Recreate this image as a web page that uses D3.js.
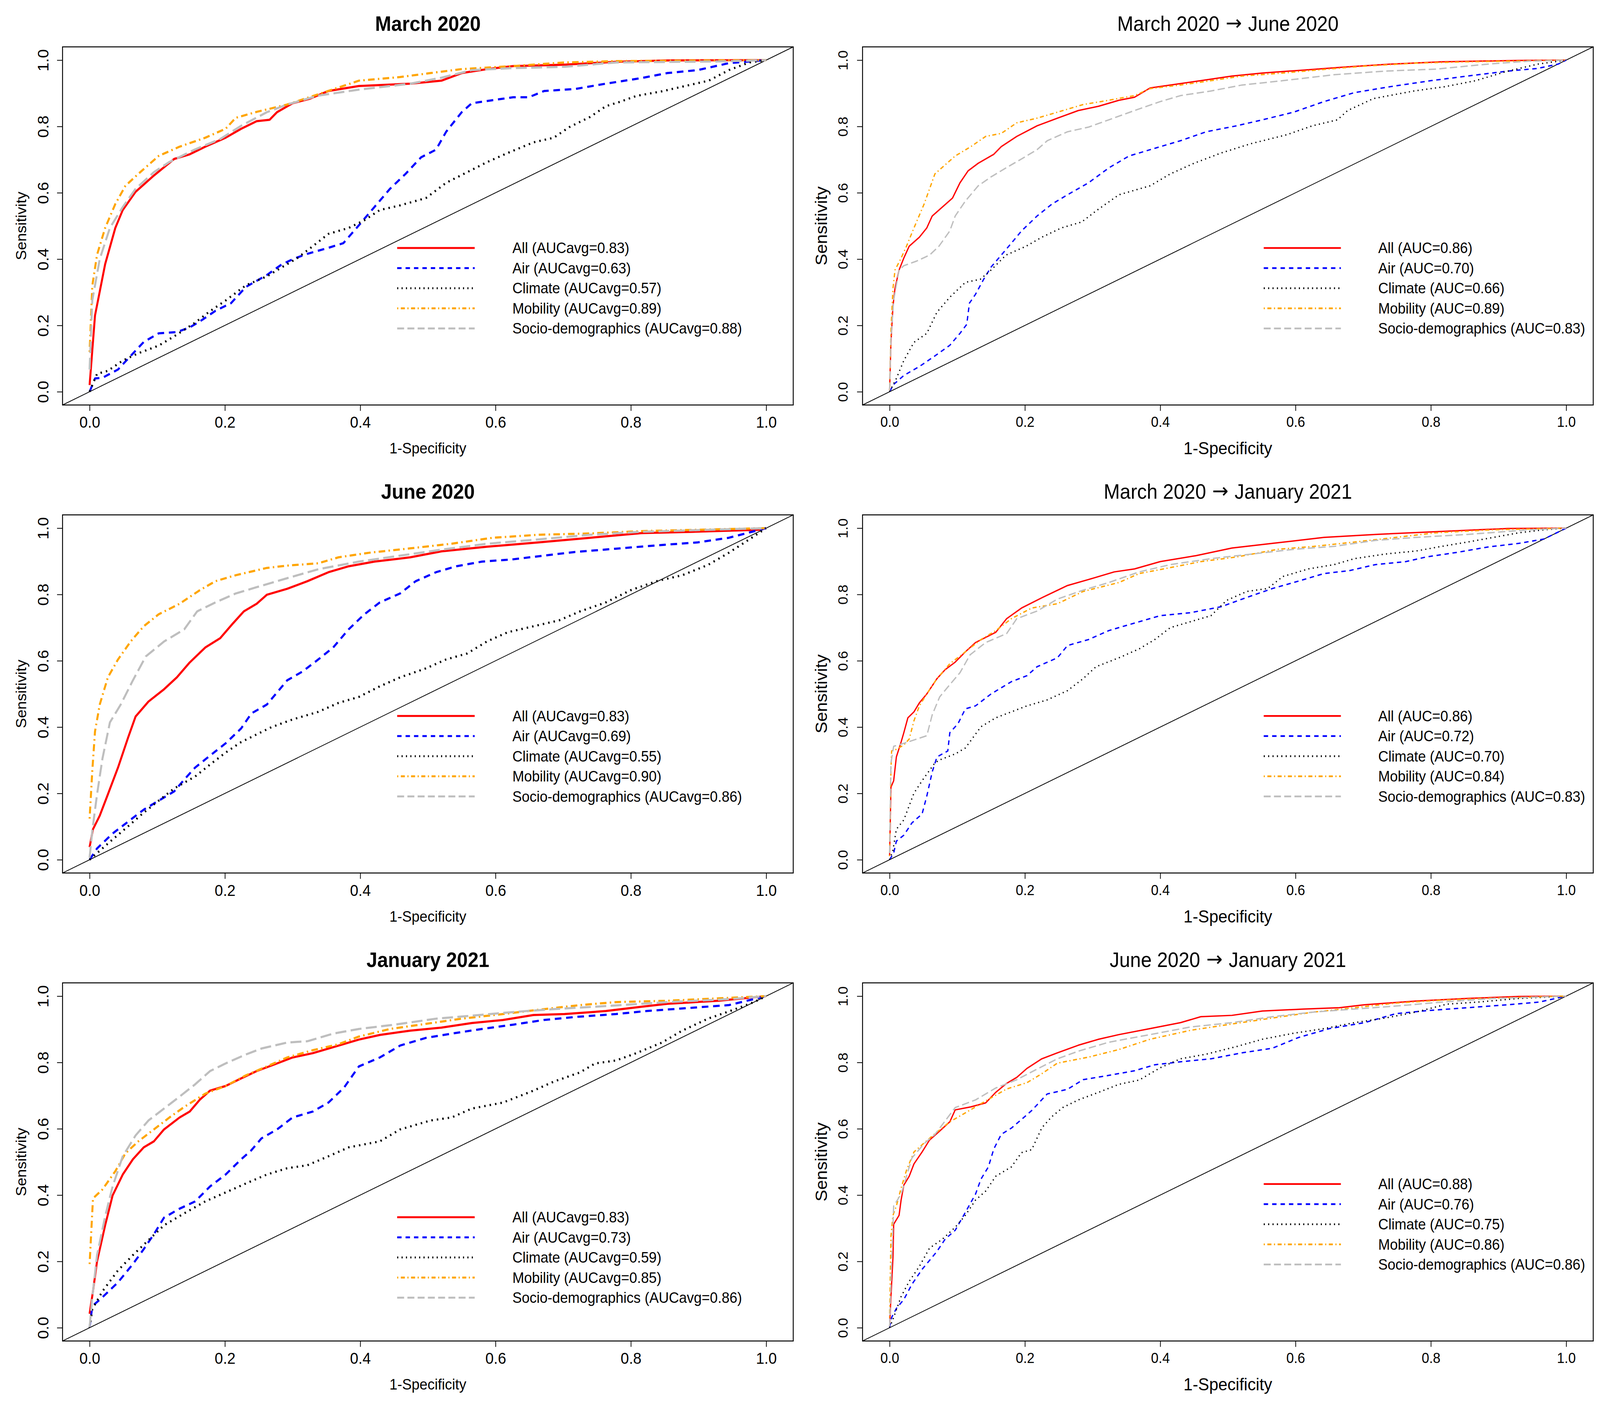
<!DOCTYPE html>
<html><head><meta charset="utf-8">
<script src="https://cdn.jsdelivr.net/npm/d3@7"></script>
<style>html,body{margin:0;padding:0;overflow:hidden;background:#fff;width:100%;height:100%}svg{display:block;width:100vw;height:100vh}text{font-family:"Liberation Sans",Arial,sans-serif}</style>
</head><body>
<svg id="c" viewBox="0 0 4375 3595" preserveAspectRatio="none"></svg>
<script>
// ---------- DATA (x = 1-Specificity, y = Sensitivity) ----------
const seriesNames = ["All","Air","Climate","Mobility","Socio-demographics"];
const seriesColors = ["#FF0000","#0000FF","#000000","#FFA500","#BEBEBE"];
const xTicks = [0,0.2,0.4,0.6,0.8,1.0];
const yTicks = [0,0.2,0.4,0.6,0.8,1.0];
const titleParts = [["March 2020"],["March 2020","June 2020"],["June 2020"],["March 2020","January 2021"],["January 2021"],["June 2020","January 2021"]];

const mar20_all=[[0,0.02],[0.008,0.23],[0.023,0.385],[0.038,0.494],[0.049,0.548],[0.068,0.603],[0.095,0.652],[0.125,0.702],[0.148,0.716],[0.171,0.739],[0.201,0.766],[0.224,0.793],[0.247,0.816],[0.266,0.82],[0.277,0.843],[0.3,0.87],[0.326,0.884],[0.353,0.907],[0.398,0.922],[0.474,0.929],[0.52,0.938],[0.55,0.961],[0.588,0.973],[0.626,0.982],[0.7,0.986],[0.778,0.995],[0.854,0.999],[1,1]];
const mar20_air=[[0,0],[0.008,0.04],[0.019,0.042],[0.042,0.067],[0.057,0.1],[0.08,0.15],[0.102,0.176],[0.129,0.18],[0.148,0.194],[0.163,0.212],[0.186,0.244],[0.209,0.267],[0.231,0.316],[0.262,0.352],[0.284,0.384],[0.303,0.402],[0.322,0.416],[0.353,0.434],[0.375,0.448],[0.398,0.502],[0.421,0.557],[0.444,0.612],[0.467,0.657],[0.49,0.707],[0.512,0.73],[0.527,0.784],[0.55,0.843],[0.565,0.87],[0.595,0.879],[0.626,0.888],[0.649,0.888],[0.672,0.907],[0.718,0.913],[0.763,0.929],[0.816,0.946],[0.854,0.961],[0.899,0.97],[0.945,0.991],[1,1]];
const mar20_climate=[[0,0],[0.011,0.054],[0.027,0.063],[0.049,0.094],[0.072,0.116],[0.102,0.139],[0.125,0.167],[0.155,0.207],[0.178,0.243],[0.201,0.275],[0.231,0.321],[0.262,0.348],[0.284,0.375],[0.307,0.403],[0.33,0.439],[0.353,0.476],[0.383,0.494],[0.406,0.517],[0.429,0.548],[0.459,0.562],[0.497,0.584],[0.527,0.63],[0.558,0.662],[0.588,0.693],[0.618,0.72],[0.656,0.752],[0.686,0.766],[0.709,0.798],[0.74,0.829],[0.763,0.861],[0.785,0.875],[0.808,0.892],[0.846,0.906],[0.876,0.92],[0.915,0.938],[0.945,0.97],[0.975,0.993],[1,1]];
const mar20_mobility=[[0,0.12],[0.004,0.32],[0.011,0.413],[0.023,0.494],[0.038,0.566],[0.053,0.621],[0.072,0.657],[0.102,0.711],[0.133,0.739],[0.171,0.766],[0.201,0.793],[0.216,0.826],[0.247,0.844],[0.292,0.866],[0.338,0.897],[0.398,0.938],[0.459,0.949],[0.504,0.961],[0.55,0.973],[0.626,0.982],[0.702,0.993],[0.778,0.997],[1,1]];
const mar20_socio=[[0,0.067],[0.004,0.276],[0.015,0.4],[0.03,0.494],[0.049,0.557],[0.068,0.612],[0.095,0.662],[0.118,0.693],[0.155,0.73],[0.193,0.762],[0.224,0.802],[0.262,0.843],[0.292,0.866],[0.338,0.893],[0.398,0.911],[0.474,0.929],[0.52,0.947],[0.565,0.97],[0.626,0.976],[0.702,0.98],[0.778,0.993],[0.93,0.996],[1,1]];

const marjun_all=[[0,0.004],[0.002,0.149],[0.005,0.258],[0.008,0.312],[0.014,0.367],[0.021,0.403],[0.029,0.439],[0.044,0.466],[0.055,0.494],[0.063,0.53],[0.078,0.557],[0.093,0.584],[0.104,0.63],[0.116,0.666],[0.131,0.689],[0.154,0.716],[0.165,0.739],[0.188,0.77],[0.218,0.802],[0.248,0.825],[0.279,0.848],[0.309,0.861],[0.339,0.879],[0.362,0.888],[0.385,0.916],[0.415,0.925],[0.46,0.938],[0.506,0.952],[0.551,0.961],[0.612,0.97],[0.672,0.979],[0.74,0.988],[0.816,0.995],[0.93,0.999],[1,1]];
const marjun_air=[[0,0],[0.006,0.022],[0.021,0.049],[0.044,0.076],[0.067,0.108],[0.089,0.14],[0.104,0.176],[0.114,0.203],[0.118,0.267],[0.127,0.294],[0.139,0.339],[0.15,0.376],[0.165,0.412],[0.18,0.448],[0.195,0.485],[0.218,0.53],[0.24,0.566],[0.263,0.594],[0.294,0.63],[0.324,0.675],[0.354,0.711],[0.4,0.739],[0.43,0.757],[0.468,0.784],[0.513,0.802],[0.551,0.82],[0.597,0.843],[0.642,0.875],[0.687,0.902],[0.74,0.92],[0.8,0.938],[0.854,0.952],[0.914,0.967],[0.958,0.975],[0.988,0.988],[1,1]];
const marjun_climate=[[0,0],[0.01,0.04],[0.021,0.094],[0.036,0.149],[0.055,0.176],[0.07,0.24],[0.089,0.285],[0.112,0.33],[0.134,0.339],[0.15,0.367],[0.172,0.412],[0.202,0.439],[0.225,0.466],[0.254,0.494],[0.284,0.512],[0.307,0.548],[0.339,0.594],[0.385,0.621],[0.415,0.657],[0.45,0.689],[0.49,0.72],[0.534,0.748],[0.587,0.775],[0.625,0.802],[0.662,0.82],[0.677,0.848],[0.715,0.884],[0.775,0.907],[0.821,0.92],[0.866,0.938],[0.912,0.966],[0.958,0.988],[1,1]];
const marjun_mobility=[[0,0.004],[0.002,0.185],[0.005,0.312],[0.008,0.367],[0.017,0.403],[0.025,0.439],[0.036,0.494],[0.051,0.566],[0.067,0.657],[0.082,0.684],[0.097,0.711],[0.12,0.739],[0.142,0.77],[0.165,0.779],[0.188,0.811],[0.218,0.825],[0.248,0.843],[0.286,0.866],[0.324,0.879],[0.362,0.893],[0.385,0.914],[0.43,0.925],[0.475,0.938],[0.521,0.952],[0.581,0.961],[0.642,0.972],[0.702,0.982],[0.778,0.991],[0.854,0.995],[1,1]];
const marjun_socio=[[0,0.004],[0.002,0.158],[0.006,0.276],[0.014,0.367],[0.021,0.38],[0.04,0.394],[0.059,0.412],[0.073,0.439],[0.089,0.485],[0.097,0.53],[0.112,0.575],[0.131,0.621],[0.15,0.648],[0.172,0.675],[0.195,0.702],[0.218,0.73],[0.233,0.757],[0.263,0.784],[0.294,0.798],[0.324,0.82],[0.362,0.848],[0.4,0.875],[0.43,0.893],[0.475,0.907],[0.521,0.925],[0.581,0.938],[0.657,0.956],[0.733,0.967],[0.808,0.973],[0.884,0.988],[0.945,0.997],[1,1]];

const jun20_all=[[0,0.038],[0.005,0.092],[0.015,0.133],[0.027,0.197],[0.042,0.278],[0.057,0.369],[0.068,0.432],[0.087,0.477],[0.11,0.514],[0.129,0.55],[0.148,0.595],[0.171,0.64],[0.193,0.668],[0.212,0.713],[0.228,0.749],[0.247,0.772],[0.262,0.799],[0.292,0.817],[0.322,0.84],[0.353,0.867],[0.383,0.885],[0.421,0.899],[0.474,0.912],[0.52,0.93],[0.588,0.944],[0.664,0.957],[0.74,0.971],[0.816,0.985],[0.892,0.989],[0.99,0.995],[1,1]];
const jun20_air=[[0,0],[0.011,0.034],[0.034,0.079],[0.057,0.115],[0.08,0.151],[0.102,0.178],[0.125,0.206],[0.14,0.242],[0.156,0.278],[0.178,0.314],[0.201,0.351],[0.224,0.396],[0.239,0.441],[0.262,0.468],[0.281,0.514],[0.292,0.541],[0.315,0.568],[0.338,0.604],[0.36,0.64],[0.383,0.695],[0.406,0.74],[0.429,0.776],[0.459,0.803],[0.482,0.84],[0.512,0.867],[0.542,0.885],[0.58,0.899],[0.626,0.906],[0.671,0.917],[0.717,0.928],[0.778,0.938],[0.838,0.948],[0.899,0.957],[0.945,0.971],[1,1]];
const jun20_climate=[[0,0],[0.011,0.02],[0.034,0.061],[0.057,0.101],[0.08,0.142],[0.102,0.178],[0.125,0.215],[0.156,0.251],[0.178,0.287],[0.201,0.323],[0.224,0.355],[0.247,0.378],[0.269,0.4],[0.3,0.423],[0.338,0.446],[0.368,0.473],[0.398,0.491],[0.429,0.523],[0.459,0.55],[0.497,0.577],[0.527,0.604],[0.558,0.622],[0.588,0.659],[0.618,0.686],[0.656,0.704],[0.694,0.722],[0.725,0.749],[0.763,0.776],[0.8,0.813],[0.838,0.84],[0.876,0.858],[0.914,0.889],[0.945,0.926],[0.975,0.966],[1,1]];
const jun20_mobility=[[0,0.124],[0.004,0.269],[0.008,0.387],[0.015,0.468],[0.027,0.55],[0.042,0.604],[0.061,0.659],[0.08,0.704],[0.102,0.74],[0.133,0.772],[0.163,0.813],[0.186,0.84],[0.216,0.858],[0.262,0.88],[0.292,0.887],[0.338,0.894],[0.368,0.912],[0.414,0.926],[0.474,0.939],[0.535,0.953],[0.596,0.971],[0.664,0.98],[0.74,0.984],[0.816,0.991],[1,1]];
const jun20_socio=[[0,0.006],[0.004,0.088],[0.011,0.197],[0.019,0.305],[0.03,0.414],[0.046,0.468],[0.064,0.541],[0.083,0.613],[0.11,0.658],[0.14,0.695],[0.159,0.749],[0.186,0.776],[0.216,0.803],[0.247,0.822],[0.292,0.849],[0.338,0.876],[0.398,0.899],[0.459,0.917],[0.52,0.935],[0.588,0.953],[0.664,0.966],[0.74,0.98],[0.816,0.989],[1,1]];

const marjan_all=[[0,0.011],[0.002,0.219],[0.006,0.238],[0.01,0.31],[0.017,0.355],[0.021,0.383],[0.027,0.428],[0.036,0.446],[0.044,0.473],[0.055,0.5],[0.07,0.546],[0.082,0.573],[0.097,0.596],[0.112,0.627],[0.127,0.655],[0.157,0.686],[0.173,0.727],[0.195,0.759],[0.226,0.791],[0.263,0.827],[0.294,0.845],[0.332,0.868],[0.362,0.877],[0.4,0.899],[0.453,0.917],[0.506,0.94],[0.566,0.954],[0.642,0.972],[0.718,0.981],[0.816,0.99],[0.914,0.999],[1,1]];
const marjan_air=[[0,0],[0.006,0.02],[0.01,0.056],[0.021,0.074],[0.033,0.111],[0.048,0.138],[0.055,0.192],[0.063,0.265],[0.07,0.31],[0.086,0.328],[0.089,0.383],[0.101,0.41],[0.112,0.455],[0.127,0.464],[0.15,0.5],[0.18,0.537],[0.203,0.555],[0.218,0.582],[0.248,0.609],[0.263,0.646],[0.294,0.664],[0.324,0.691],[0.354,0.709],[0.4,0.736],[0.445,0.745],[0.49,0.763],[0.528,0.791],[0.566,0.818],[0.604,0.84],[0.642,0.863],[0.68,0.872],[0.718,0.89],[0.763,0.899],[0.793,0.913],[0.839,0.927],[0.884,0.943],[0.93,0.954],[0.967,0.967],[1,1]];
const marjan_climate=[[0,0],[0.005,0.029],[0.01,0.092],[0.021,0.12],[0.036,0.201],[0.051,0.247],[0.067,0.292],[0.074,0.301],[0.097,0.319],[0.112,0.337],[0.135,0.401],[0.157,0.428],[0.18,0.446],[0.203,0.464],[0.233,0.482],[0.263,0.51],[0.286,0.546],[0.305,0.582],[0.339,0.609],[0.369,0.636],[0.392,0.664],[0.415,0.7],[0.445,0.718],[0.475,0.736],[0.498,0.782],[0.528,0.809],[0.559,0.818],[0.581,0.854],[0.619,0.877],[0.657,0.89],[0.687,0.908],[0.733,0.922],[0.778,0.931],[0.816,0.945],[0.854,0.958],[0.892,0.972],[0.93,0.986],[0.967,0.995],[1,1]];
const marjan_mobility=[[0,0.011],[0.002,0.274],[0.003,0.328],[0.01,0.333],[0.021,0.346],[0.029,0.364],[0.036,0.419],[0.044,0.464],[0.055,0.5],[0.07,0.546],[0.089,0.591],[0.112,0.627],[0.135,0.664],[0.157,0.691],[0.18,0.727],[0.21,0.759],[0.248,0.772],[0.286,0.809],[0.339,0.836],[0.369,0.863],[0.415,0.881],[0.46,0.899],[0.513,0.913],[0.573,0.936],[0.627,0.945],[0.687,0.958],[0.748,0.972],[0.808,0.986],[0.892,0.995],[1,1]];
const marjan_socio=[[0,0.02],[0.002,0.292],[0.006,0.342],[0.021,0.351],[0.055,0.374],[0.063,0.437],[0.074,0.491],[0.089,0.528],[0.104,0.564],[0.119,0.618],[0.142,0.655],[0.173,0.682],[0.188,0.727],[0.218,0.75],[0.248,0.786],[0.286,0.813],[0.324,0.836],[0.369,0.868],[0.415,0.89],[0.475,0.908],[0.536,0.922],[0.597,0.936],[0.657,0.945],[0.718,0.963],[0.778,0.972],[0.854,0.981],[0.945,0.995],[1,1]];

const jan21_all=[[0,0.042],[0.005,0.11],[0.011,0.2],[0.023,0.309],[0.034,0.399],[0.049,0.462],[0.064,0.508],[0.08,0.544],[0.095,0.562],[0.11,0.598],[0.133,0.634],[0.148,0.652],[0.163,0.688],[0.178,0.715],[0.201,0.729],[0.224,0.752],[0.247,0.774],[0.277,0.797],[0.3,0.815],[0.33,0.828],[0.36,0.846],[0.398,0.869],[0.429,0.883],[0.474,0.896],[0.52,0.905],[0.565,0.919],[0.611,0.928],[0.656,0.943],[0.702,0.946],[0.763,0.955],[0.816,0.968],[0.854,0.977],[0.929,0.986],[1,1]];
const jan21_air=[[0,0],[0.004,0.065],[0.019,0.092],[0.042,0.137],[0.064,0.192],[0.08,0.237],[0.095,0.282],[0.11,0.332],[0.133,0.359],[0.156,0.381],[0.178,0.426],[0.201,0.462],[0.224,0.508],[0.239,0.535],[0.254,0.571],[0.277,0.598],[0.3,0.634],[0.33,0.652],[0.353,0.679],[0.376,0.724],[0.398,0.788],[0.429,0.815],[0.459,0.851],[0.497,0.874],[0.535,0.887],[0.58,0.901],[0.626,0.914],[0.671,0.928],[0.717,0.937],[0.778,0.946],[0.823,0.955],[0.884,0.964],[0.945,0.973],[1,1]];
const jan21_climate=[[0,0],[0.004,0.056],[0.019,0.11],[0.042,0.173],[0.064,0.219],[0.087,0.264],[0.11,0.309],[0.14,0.345],[0.171,0.381],[0.201,0.408],[0.231,0.435],[0.262,0.462],[0.292,0.481],[0.322,0.49],[0.353,0.517],[0.383,0.544],[0.429,0.562],[0.459,0.598],[0.504,0.625],[0.535,0.634],[0.565,0.661],[0.611,0.679],[0.656,0.715],[0.687,0.743],[0.725,0.77],[0.747,0.797],[0.778,0.806],[0.808,0.828],[0.846,0.86],[0.876,0.896],[0.914,0.932],[0.952,0.959],[0.982,0.982],[1,1]];
const jan21_mobility=[[0,0.192],[0.005,0.39],[0.019,0.417],[0.038,0.472],[0.053,0.526],[0.072,0.562],[0.095,0.598],[0.118,0.634],[0.14,0.666],[0.171,0.706],[0.201,0.729],[0.231,0.761],[0.262,0.788],[0.292,0.815],[0.33,0.837],[0.368,0.855],[0.398,0.878],[0.444,0.901],[0.489,0.914],[0.55,0.932],[0.611,0.946],[0.664,0.959],[0.725,0.973],[0.778,0.982],[0.854,0.986],[1,1]];
const jan21_socio=[[0,0.002],[0.004,0.092],[0.011,0.219],[0.023,0.336],[0.034,0.426],[0.049,0.517],[0.068,0.58],[0.087,0.625],[0.11,0.661],[0.133,0.697],[0.156,0.734],[0.178,0.774],[0.201,0.797],[0.231,0.824],[0.254,0.842],[0.292,0.86],[0.322,0.864],[0.36,0.887],[0.398,0.901],[0.451,0.914],[0.512,0.932],[0.565,0.941],[0.626,0.952],[0.687,0.961],[0.763,0.97],[0.854,0.982],[0.945,0.991],[1,1]];

const junjan_all=[[0,0.004],[0.002,0.094],[0.005,0.212],[0.006,0.312],[0.014,0.339],[0.017,0.385],[0.021,0.43],[0.029,0.457],[0.036,0.494],[0.048,0.53],[0.059,0.566],[0.074,0.593],[0.089,0.621],[0.097,0.657],[0.12,0.666],[0.142,0.678],[0.157,0.71],[0.173,0.737],[0.188,0.755],[0.203,0.782],[0.225,0.811],[0.248,0.829],[0.279,0.852],[0.309,0.87],[0.339,0.884],[0.385,0.902],[0.43,0.92],[0.46,0.938],[0.506,0.942],[0.551,0.955],[0.612,0.961],[0.665,0.965],[0.702,0.974],[0.778,0.985],[0.854,0.993],[0.93,0.999],[1,1]];
const junjan_air=[[0,0],[0.003,0.031],[0.01,0.058],[0.021,0.085],[0.033,0.131],[0.048,0.176],[0.059,0.203],[0.07,0.23],[0.082,0.267],[0.097,0.294],[0.112,0.348],[0.127,0.403],[0.135,0.448],[0.146,0.485],[0.154,0.539],[0.165,0.583],[0.18,0.602],[0.195,0.628],[0.21,0.655],[0.233,0.705],[0.263,0.719],[0.286,0.748],[0.324,0.761],[0.362,0.775],[0.392,0.793],[0.43,0.802],[0.475,0.811],[0.521,0.829],[0.566,0.843],[0.604,0.875],[0.65,0.902],[0.702,0.92],[0.748,0.947],[0.793,0.956],[0.854,0.965],[0.914,0.974],[0.96,0.982],[1,1]];
const junjan_climate=[[0,0],[0.006,0.031],[0.017,0.094],[0.029,0.14],[0.044,0.185],[0.059,0.24],[0.078,0.267],[0.097,0.303],[0.112,0.339],[0.127,0.385],[0.142,0.412],[0.157,0.457],[0.18,0.485],[0.195,0.528],[0.21,0.537],[0.225,0.603],[0.24,0.637],[0.256,0.664],[0.279,0.687],[0.309,0.71],[0.339,0.734],[0.369,0.747],[0.4,0.784],[0.43,0.811],[0.468,0.825],[0.513,0.848],[0.551,0.87],[0.597,0.888],[0.642,0.902],[0.687,0.92],[0.733,0.934],[0.778,0.952],[0.824,0.976],[0.869,0.982],[0.93,0.993],[1,1]];
const junjan_mobility=[[0,0.031],[0.002,0.276],[0.005,0.339],[0.01,0.367],[0.017,0.421],[0.025,0.475],[0.036,0.53],[0.051,0.557],[0.067,0.585],[0.089,0.621],[0.112,0.648],[0.142,0.684],[0.173,0.72],[0.203,0.739],[0.225,0.766],[0.248,0.798],[0.294,0.816],[0.339,0.839],[0.385,0.87],[0.445,0.897],[0.506,0.916],[0.566,0.934],[0.627,0.952],[0.687,0.965],[0.748,0.979],[0.816,0.988],[0.892,0.994],[1,1]];
const junjan_socio=[[0,0.004],[0.002,0.14],[0.006,0.367],[0.017,0.403],[0.025,0.457],[0.033,0.512],[0.051,0.555],[0.067,0.583],[0.097,0.664],[0.127,0.687],[0.157,0.723],[0.188,0.748],[0.218,0.78],[0.248,0.811],[0.279,0.834],[0.324,0.861],[0.385,0.884],[0.445,0.907],[0.506,0.92],[0.566,0.938],[0.627,0.952],[0.687,0.961],[0.748,0.97],[0.816,0.982],[0.892,0.993],[1,1]];

const legend_mar20=["All (AUCavg=0.83)","Air (AUCavg=0.63)","Climate (AUCavg=0.57)","Mobility (AUCavg=0.89)","Socio-demographics (AUCavg=0.88)"];
const legend_marjun=["All (AUC=0.86)","Air (AUC=0.70)","Climate (AUC=0.66)","Mobility (AUC=0.89)","Socio-demographics (AUC=0.83)"];
const legend_jun20=["All (AUCavg=0.83)","Air (AUCavg=0.69)","Climate (AUCavg=0.55)","Mobility (AUCavg=0.90)","Socio-demographics (AUCavg=0.86)"];
const legend_marjan=["All (AUC=0.86)","Air (AUC=0.72)","Climate (AUC=0.70)","Mobility (AUC=0.84)","Socio-demographics (AUC=0.83)"];
const legend_jan21=["All (AUCavg=0.83)","Air (AUCavg=0.73)","Climate (AUCavg=0.59)","Mobility (AUCavg=0.85)","Socio-demographics (AUCavg=0.86)"];
const legend_junjan=["All (AUC=0.88)","Air (AUC=0.76)","Climate (AUC=0.75)","Mobility (AUC=0.86)","Socio-demographics (AUC=0.86)"];

const panelSeries=[
  [mar20_all,mar20_air,mar20_climate,mar20_mobility,mar20_socio],
  [marjun_all,marjun_air,marjun_climate,marjun_mobility,marjun_socio],
  [jun20_all,jun20_air,jun20_climate,jun20_mobility,jun20_socio],
  [marjan_all,marjan_air,marjan_climate,marjan_mobility,marjan_socio],
  [jan21_all,jan21_air,jan21_climate,jan21_mobility,jan21_socio],
  [junjan_all,junjan_air,junjan_climate,junjan_mobility,junjan_socio]
];
const panelLegends=[legend_mar20,legend_marjun,legend_jun20,legend_marjan,legend_jan21,legend_junjan];

// ---------- STYLE ----------
const W=4375,H=3595,PW=W/2,PH=H/3;
const box={l:171,r:2169,t:120,b:1037};
const dashLeft=[null,"18,13","4,11","4,9,18,9","30,12"];
const dashRight=[null,"12,10","3,9","3,7,11,7","20,9"];
const dashLegend=[null,"12,11","3,9","3,7,11,7","19,9"];

const svg=d3.select("#c");
svg.append("rect").attr("width",W).attr("height",H).attr("fill","#fff");

panelSeries.forEach((series,i)=>{
  const col=i%2,row=Math.floor(i/2);
  const left=col===0;
  const g=svg.append("g").attr("transform",`translate(${col*PW},${row*PH})`);
  const x=d3.scaleLinear().domain([-0.04,1.04]).range([box.l,box.r]);
  const y=d3.scaleLinear().domain([-0.04,1.04]).range([box.b,box.t]);
  const tickFont=left?41:37, labFont=left?39:45;

  // title
  const t=g.append("text").attr("x",(box.l+box.r)/2).attr("y",79).attr("text-anchor","middle")
    .attr("font-size",53).attr("font-weight",left?"bold":"normal");
  const parts=titleParts[i];
  t.append("tspan").text(parts[0]);
  if(parts.length>1){
    t.append("tspan").attr("font-family","DejaVu Sans, sans-serif").attr("dy",-2).text(" \u2192 ");
    t.append("tspan").attr("dy",2).text(parts[1]);
  }

  // diagonal
  g.append("line").attr("x1",x(-0.04)).attr("y1",y(-0.04)).attr("x2",x(1.04)).attr("y2",y(1.04))
    .attr("stroke","#000").attr("stroke-width",2);

  // curves
  const line=d3.line().x(d=>x(d[0])).y(d=>y(d[1]));
  series.forEach((s,k)=>{
    const da=(left?dashLeft:dashRight)[k];
    const p=g.append("path").datum(s).attr("d",line).attr("fill","none")
      .attr("stroke",seriesColors[k]).attr("stroke-width",left?5.5:3.5)
      .attr("stroke-linejoin","round");
    if(da) p.attr("stroke-dasharray",da);
  });

  // box
  g.append("rect").attr("x",box.l).attr("y",box.t).attr("width",box.r-box.l).attr("height",box.b-box.t)
    .attr("fill","none").attr("stroke","#000").attr("stroke-width",2.5);

  // x axis
  const xa=g.append("g").attr("transform",`translate(0,${box.b})`)
    .call(d3.axisBottom(x).tickValues(xTicks).tickFormat(d3.format(".1f")).tickSize(15).tickPadding(0));
  xa.select(".domain").remove();
  xa.selectAll("line").attr("stroke-width",2);
  xa.selectAll("text").attr("font-size",tickFont).attr("font-family","Liberation Sans, Arial, sans-serif")
    .attr("y",44).attr("dy",null).attr("dominant-baseline","central").attr("fill","#000");

  // y axis (rotated labels)
  const ya=g.append("g").attr("transform",`translate(${box.l},0)`)
    .call(d3.axisLeft(y).tickValues(yTicks).tickFormat(d3.format(".1f")).tickSize(15).tickPadding(0));
  ya.select(".domain").remove();
  ya.selectAll("line").attr("stroke-width",2);
  ya.selectAll("text").attr("font-size",tickFont).attr("font-family","Liberation Sans, Arial, sans-serif")
    .attr("x",0).attr("y",-53).attr("dy",null).attr("dominant-baseline","central")
    .attr("text-anchor","middle").attr("transform","rotate(-90)").attr("fill","#000");

  // axis labels
  g.append("text").attr("x",(box.l+box.r)/2).attr("y",1148).attr("text-anchor","middle")
    .attr("dominant-baseline","central").attr("font-size",labFont).text("1-Specificity");
  g.append("text").attr("transform",`translate(58,${(box.t+box.b)/2}) rotate(-90)`)
    .attr("text-anchor","middle").attr("dominant-baseline","central").attr("font-size",labFont).text("Sensitivity");

  // legend
  const ly0=(i===4)?720:635, lstep=51.5;
  const lx1=left?1086:1268, lx2=left?1298:1479, tx=left?1401:1581;
  panelLegends[i].forEach((lab,k)=>{
    const yy=ly0+k*lstep;
    const l=g.append("line").attr("x1",lx1).attr("x2",lx2).attr("y1",yy).attr("y2",yy)
      .attr("stroke",seriesColors[k]).attr("stroke-width",left?5:4.5);
    if(dashLegend[k]) l.attr("stroke-dasharray",dashLegend[k]);
    g.append("text").attr("x",tx).attr("y",yy).attr("dominant-baseline","central")
      .attr("font-size",38.5).text(lab);
  });
});
</script>
</body></html>
